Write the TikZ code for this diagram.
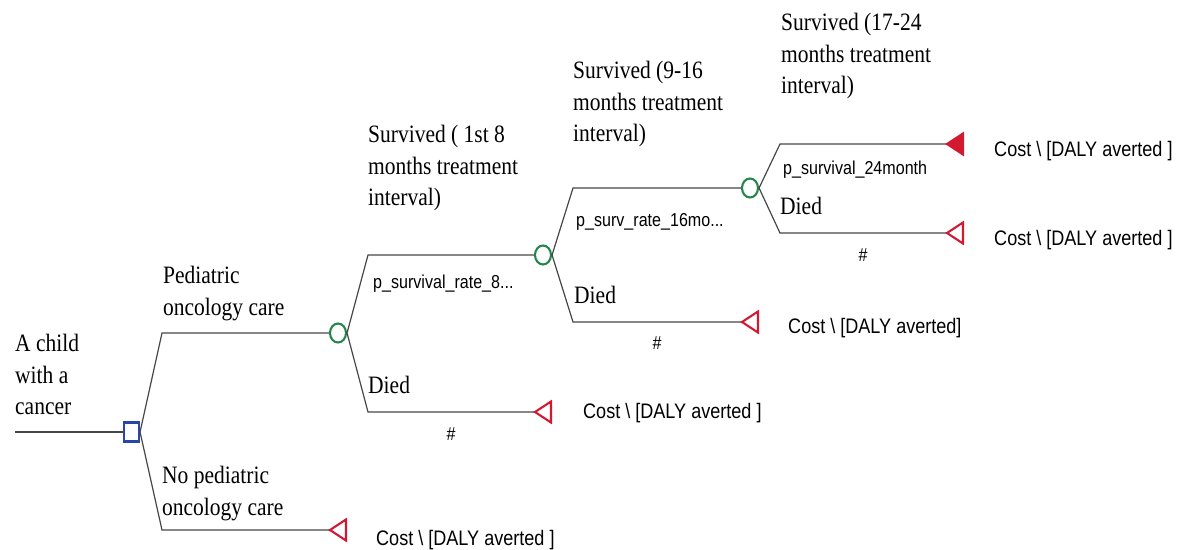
\documentclass[tikz,border=0pt]{standalone}
\usepackage{fontspec}
\setmainfont{Liberation Serif}[FakeStretch=0.86]
\setsansfont{Liberation Sans}[FakeStretch=0.86]
\usetikzlibrary{shapes.geometric}
\definecolor{dblue}{RGB}{40,70,165}
\definecolor{dgreen}{RGB}{35,135,75}
\definecolor{dred}{RGB}{210,25,50}
\definecolor{lgrey}{RGB}{70,70,70}
\begin{document}
\begin{tikzpicture}[x=1pt,y=-1pt,
  branch/.style={draw=lgrey,line width=1.2pt},
  decision/.style={draw=dblue,line width=2.1pt,rectangle,minimum width=15pt,minimum height=19pt,inner sep=0pt},
  chance/.style={draw=dgreen,line width=2.1pt,ellipse,minimum width=16pt,minimum height=19pt,inner sep=0pt},
  term/.style={draw=dred,line width=2.1pt,line join=miter},
  serif/.style={font=\fontsize{25}{31.5}\selectfont,inner sep=0pt,align=left,anchor=north west},
  serifone/.style={font=\fontsize{25}{31.5}\selectfont,inner sep=0pt,anchor=base west},
  prob/.style={font=\sffamily\fontsize{18.7}{22}\selectfont,inner sep=0pt,anchor=base west},
  hash/.style={font=\sffamily\fontsize{18.7}{22}\selectfont,inner sep=0pt},
  payoff/.style={font=\sffamily\fontsize{21}{25}\selectfont,inner sep=0pt,anchor=base west}]
\useasboundingbox (0,0) rectangle (1180,549);

% nodes
\coordinate (s) at (15,432);
\node[decision] (d) at (131.5,432) {};
\node[chance] (c1) at (338,333) {};
\node[chance] (c2) at (543,255) {};
\node[chance] (c3) at (750,188) {};

\coordinate (t0) at (330,530);
\coordinate (t1) at (535,412);
\coordinate (t2) at (742,322);
\coordinate (t3) at (947,144);
\coordinate (t4) at (947,233);

% bends
\coordinate (kd1) at (162,333);
\coordinate (kd2) at (162,530);
\coordinate (k11) at (368,255);
\coordinate (k12) at (368,412);
\coordinate (k21) at (573,188);
\coordinate (k22) at (573,322);
\coordinate (k31) at (780,144);
\coordinate (k32) at (780,233);

% connectors
\draw[branch] (s) -- (d.west);
\draw[branch] (d.east) -- (kd1) -- (c1.west);
\draw[branch] (d.east) -- (kd2) -- (t0);
\draw[branch] (c1.east) -- (k11) -- (c2.west);
\draw[branch] (c1.east) -- (k12) -- (t1);
\draw[branch] (c2.east) -- (k21) -- (c3.west);
\draw[branch] (c2.east) -- (k22) -- (t2);
\draw[branch] (c3.east) -- (k31) -- (t3);
\draw[branch] (c3.east) -- (k32) -- (t4);

% terminal triangles
\draw[term] (t0) -- ++(16,-10.5) -- ++(0,21) -- cycle;
\draw[term] (t1) -- ++(16,-10.5) -- ++(0,21) -- cycle;
\draw[term] (t2) -- ++(16,-10.5) -- ++(0,21) -- cycle;
\draw[term,fill=dred] (t3) -- ++(16,-10.5) -- ++(0,21) -- cycle;
\draw[term] (t4) -- ++(16,-10.5) -- ++(0,21) -- cycle;

% labels
\node[serif] (lchild) at (15,334) {A child\\with a\\cancer};
\node[serif] (lped) at (163,266) {Pediatric\\oncology care};
\node[serif] (lnoped) at (162,466) {No pediatric\\oncology care};
\node[serif] (ls1) at (368,125) {Survived ( 1st 8\\months treatment\\interval)};
\node[serif] (ls2) at (573,61) {Survived (9-16\\months treatment\\interval)};
\node[serif] (ls3) at (781,13) {Survived (17-24\\months treatment\\interval)};

\node[serifone] (ld1) at (368,393) {Died};
\node[serifone] (ld2) at (574,303) {Died};
\node[serifone] (ld3) at (780,214) {Died};

\node[prob] (p1) at (373,288) {p\_survival\_rate\_8...};
\node[prob] (p2) at (576,226) {p\_surv\_rate\_16mo...};
\node[prob] (p3) at (783,174) {p\_survival\_24month};

\node[hash] (h1) at (451,434) {\#};
\node[hash] (h2) at (657,343) {\#};
\node[hash] (h3) at (863,255) {\#};

\node[payoff] (v0) at (376,545) {Cost \textbackslash{} [DALY averted ]};
\node[payoff] (v1) at (583,418) {Cost \textbackslash{} [DALY averted ]};
\node[payoff] (v2) at (788,333) {Cost \textbackslash{} [DALY averted]};
\node[payoff] (v3) at (994,156) {Cost \textbackslash{} [DALY averted ]};
\node[payoff] (v4) at (994,245) {Cost \textbackslash{} [DALY averted ]};
\end{tikzpicture}
\end{document}
